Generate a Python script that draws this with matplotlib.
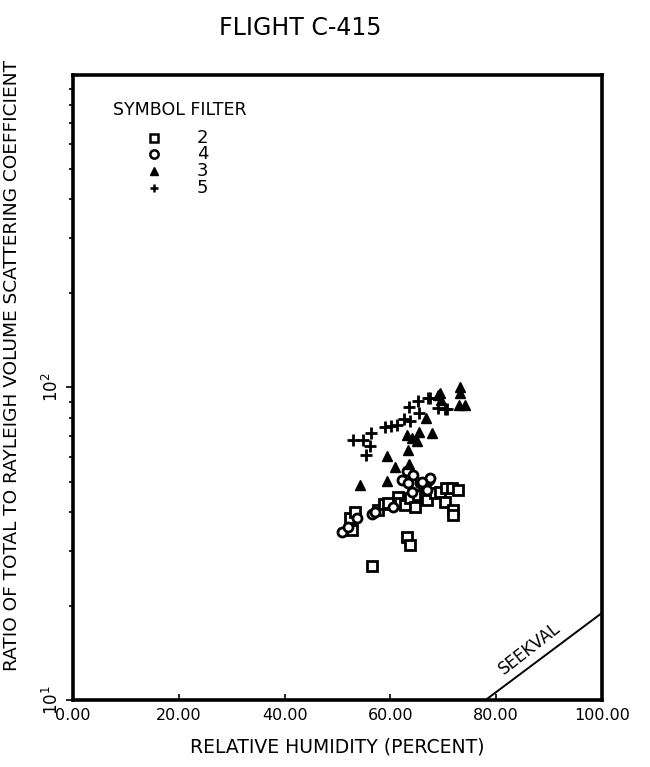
import numpy as np
import matplotlib
matplotlib.use("Agg")
import matplotlib.pyplot as plt
import matplotlib.transforms as mtransforms

# filter 2 (squares)
f2_rh = [52.4, 52.7, 53.3, 57.7, 58.7, 59.6, 61.5, 61.8, 62.8, 63.7, 64.6, 65.3, 66.5,
         66.9, 68.4, 69.4, 70.6, 71.6, 72.8, 70.3, 71.9, 71.9, 63.2, 63.7, 56.5]
f2_ratio = [38.1, 34.9, 40.0, 40.5, 42.3, 42.6, 44.7, 42.6, 42.0, 44.2, 41.5, 45.3, 44.7,
            43.6, 45.8, 46.4, 47.6, 47.8, 47.0, 43.1, 40.5, 39.0, 33.2, 31.4, 26.8]

# filter 4 (circles)
f4_rh = [50.8, 52.0, 53.6, 56.5, 57.1, 60.5, 63.1, 64.3, 62.1, 63.4, 65.6, 67.2, 67.5,
         65.9, 66.9, 64.0]
f4_ratio = [34.5, 35.8, 38.1, 39.5, 40.0, 41.5, 53.9, 52.5, 50.6, 49.4, 49.4, 50.6, 51.3,
            50.0, 47.0, 46.4]

# filter 3 (triangles)
f3_rh = [54.3, 59.4, 60.9, 59.4, 63.3, 63.5, 63.1, 64.1, 65.0, 65.4, 67.9, 66.7, 69.4,
         69.6, 69.0, 73.2, 73.2, 73.0, 74.1]
f3_ratio = [48.6, 60.5, 55.6, 50.1, 63.2, 56.9, 70.6, 68.8, 67.6, 72.1, 71.5, 80.0, 96.3,
            91.0, 94.5, 100.0, 96.3, 88.1, 88.1]

# filter 5 (plus)
f5_rh = [52.9, 54.8, 56.3, 56.1, 55.4, 59.0, 60.1, 61.2, 62.6, 63.7, 63.5, 65.2, 65.4,
         67.1, 67.5, 70.3, 70.7, 69.0]
f5_ratio = [68.1, 68.1, 71.5, 65.0, 60.7, 74.9, 75.4, 75.9, 79.4, 78.4, 86.9, 90.2, 83.1,
            92.3, 92.3, 85.2, 85.2, 86.2]

seekval_rh = [78.0, 100.0]
seekval_ratio = [10.0, 19.0]

x_ticks = [0, 20, 40, 60, 80, 100]
x_labels = ['0.00', '20.00', '40.00', '60.00', '80.00', '100.00']

legend_filters = ['2', '4', '3', '5']

plt.rcParams['font.family'] = ['DejaVu Sans']
fig = plt.figure(figsize=(6.5, 7.67), dpi=100)
ax = fig.add_axes([0.1123, 0.0874, 0.8139, 0.8148])

mk = dict(linestyle='none', color='black')
ax.plot(f2_rh, f2_ratio, marker='s', markersize=6.5, markerfacecolor='white', markeredgewidth=2, **mk)
ax.plot(f4_rh, f4_ratio, marker='o', markersize=6.5, markerfacecolor='white', markeredgewidth=2, **mk)
ax.plot(f3_rh, f3_ratio, marker='^', markersize=7, **mk)
ax.plot(f5_rh, f5_ratio, marker='+', markersize=9, markeredgewidth=2, **mk)

ax.plot(seekval_rh, seekval_ratio, color='black', lw=1.4)
ax.text(86.3, 14.6, 'SEEKVAL', rotation=38, ha='center', va='center', fontsize=12)

ax.set_yscale('log')
ax.set_xlim(0, 100)
ax.set_ylim(10, 1000)
ax.set_xticks(x_ticks)
ax.set_xticklabels(x_labels, fontsize=11.5)
shift = mtransforms.ScaledTranslation(6 / 100, 0, fig.dpi_scale_trans)
for lab in ax.get_xticklabels():
    lab.set_transform(lab.get_transform() + shift)
ax.set_yticks([10, 100])
ax.set_yticklabels([r'$10^1$', r'$10^2$'], rotation=90, va='center', fontsize=12)
ax.tick_params(axis='x', direction='in', length=4, width=1.2, pad=6)
ax.tick_params(axis='y', which='both', direction='out', width=1.2, pad=3)
ax.tick_params(axis='y', which='major', length=5)
ax.tick_params(axis='y', which='minor', length=3)
ax.yaxis.set_minor_formatter(matplotlib.ticker.NullFormatter())
for s in ax.spines.values():
    s.set_linewidth(2.6)

ax.set_xlabel('RELATIVE HUMIDITY (PERCENT)', fontsize=13.5, labelpad=10)
ax.set_ylabel('RATIO OF TOTAL TO RAYLEIGH VOLUME SCATTERING COEFFICIENT', fontsize=13.3)
ax.yaxis.set_label_coords(-0.098, 0.535)
fig.text(0.462, 0.963, 'FLIGHT C-415', ha='center', va='center', fontsize=17)

# symbol key
ax.text(0.0756, 0.944, 'SYMBOL FILTER', transform=ax.transAxes, ha='left', va='center', fontsize=12.5)
rows_y = [0.900, 0.873, 0.846, 0.819]
markers = [dict(marker='s', markerfacecolor='white', markeredgewidth=1.8),
           dict(marker='o', markerfacecolor='white', markeredgewidth=1.8),
           dict(marker='^'),
           dict(marker='+', markeredgewidth=1.8)]
for yy, lab, m in zip(rows_y, legend_filters, markers):
    ax.plot([0.153], [yy], transform=ax.transAxes, color='black', markersize=6, linestyle='none', **m)
    ax.text(0.245, yy, lab, transform=ax.transAxes, ha='center', va='center', fontsize=13)

fig.savefig('out.png', dpi=100)
